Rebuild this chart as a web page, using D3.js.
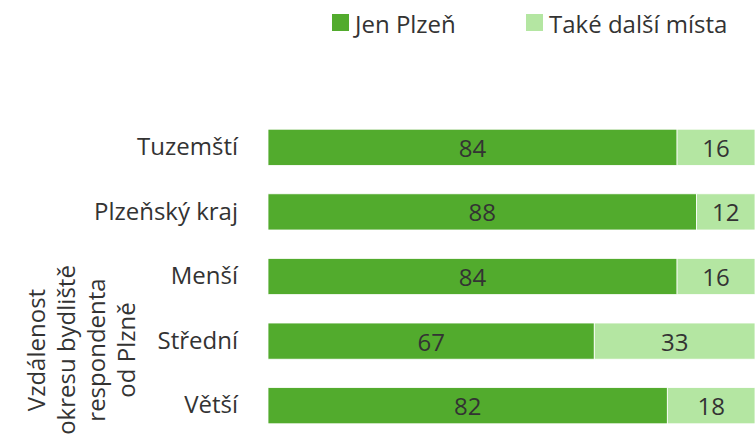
<!DOCTYPE html>
<html>
<head>
<meta charset="utf-8">
<script src="https://cdn.jsdelivr.net/npm/d3@7"></script>
<style>
  html, body { margin: 0; padding: 0; background: #fff; }
  svg { display: block; }
  text { font-family: "Segoe UI", "Open Sans", sans-serif; fill: #333; }
</style>
</head>
<body>
<svg id="chart" width="756" height="434"></svg>
<script>
const categories = ["Tuzemští", "Plzeňský kraj", "Menší", "Střední", "Větší"];
const seriesNames = ["Jen Plzeň", "Také další místa"];
const jenPlzen = [84, 88, 84, 67, 82];
const takeDalsi = [16, 12, 16, 33, 18];
const colors = ["#52AB2D", "#B4E6A2"];
const axisTitleLines = ["Vzdálenost", "okresu bydliště", "respondenta", "od Plzně"];

const W = 756, H = 434;
const svg = d3.select("#chart");
const fontSize = 24;

const x = d3.scaleLinear().domain([0, 100]).range([268, 755]);
const y = d3.scaleBand().domain(categories).range([115, 438]).paddingInner(0.44).paddingOuter(0.22);

const data = categories.map((c, i) => ({ cat: c, vals: [jenPlzen[i], takeDalsi[i]] }));
const stacked = d3.stack().keys([0, 1]).value((d, k) => d.vals[k])(data);

stacked.forEach((layer, li) => {
  const g = svg.append("g");
  g.selectAll("rect").data(layer).enter().append("rect")
    .attr("x", d => x(d[0]))
    .attr("y", d => y(d.data.cat))
    .attr("width", d => x(d[1]) - x(d[0]))
    .attr("height", y.bandwidth())
    .attr("fill", colors[li])
    .attr("stroke", "#ffffff")
    .attr("stroke-width", 0.8);
  g.selectAll("text").data(layer).enter().append("text")
    .attr("x", d => (x(d[0]) + x(d[1])) / 2)
    .attr("y", d => y(d.data.cat) + y.bandwidth() / 2)
    .attr("text-anchor", "middle")
    .attr("dominant-baseline", "central")
    .style("font-size", fontSize + "px")
    .text(d => d[1] - d[0]);
});

// category axis
const yAxis = d3.axisLeft(y).tickSize(0).tickPadding(30);
const ga = svg.append("g").attr("transform", `translate(${x(0)},0)`).call(yAxis);
ga.select(".domain").remove();
ga.selectAll("text").style("font-size", fontSize + "px").style("font-family", '"Segoe UI", "Open Sans", sans-serif').attr("fill", "#333");

// axis title (rotated)
const tg = svg.append("g").attr("transform", "translate(0,350) rotate(-90)");
tg.selectAll("text").data(axisTitleLines).enter().append("text")
  .attr("x", 0)
  .attr("y", (d, i) => 45 + i * 30)
  .attr("text-anchor", "middle")
  .style("font-size", fontSize + "px")
  .text(d => d);

// legend
const legendX = [332, 526];
const lg = svg.append("g");
seriesNames.forEach((n, i) => {
  lg.append("rect").attr("x", legendX[i]).attr("y", 14).attr("width", 17).attr("height", 17).attr("fill", colors[i]);
  lg.append("text").attr("x", legendX[i] + 23).attr("y", 23).attr("dominant-baseline", "central")
    .style("font-size", fontSize + "px").text(n);
});
</script>
</body>
</html>
